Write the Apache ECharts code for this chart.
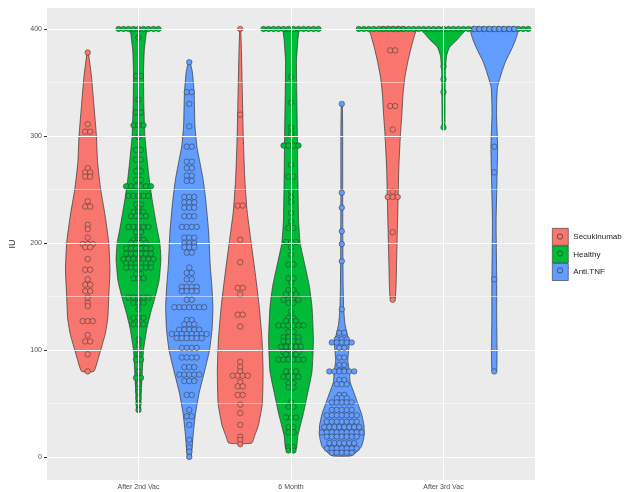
<!DOCTYPE html>
<html>
<head>
<meta charset="utf-8">
<script src="https://cdn.jsdelivr.net/npm/echarts@6/dist/echarts.min.js"></script>
<style>
  html, body { margin: 0; padding: 0; background: #fff; }
  #chart { width: 639px; height: 492px; }
</style>
</head>
<body>
<div id="chart"></div>
<script>
// categories and groups
const categories = ['After 2nd Vac', '6 Month', 'After 3rd Vac'];
const groups = ['Secukinumab', 'Healthy', 'Anti.TNF'];
const colors = ['#F8766D', '#00BA38', '#619CFF'];
const yTicks = [0, 100, 200, 300, 400];

// violin outlines: [IU, half width in category units], one list per time point
const secukinumabViolin = [
  [[80,0.04],[90,0.065],[100,0.085],[115,0.115],[130,0.132],[150,0.138],[175,0.146],[200,0.138],[225,0.115],[250,0.085],[275,0.065],[300,0.057],[330,0.04],[355,0.025],[378,0.004]],
  [[13,0.075],[20,0.095],[30,0.12],[50,0.145],[80,0.15],[110,0.143],[140,0.125],[170,0.1],[200,0.072],[230,0.045],[260,0.03],[300,0.02],[340,0.014],[380,0.008],[400,0.003]],
  [[147,0.015],[160,0.022],[180,0.025],[210,0.03],[240,0.035],[270,0.04],[300,0.05],[320,0.06],[340,0.068],[355,0.08],[370,0.1],[385,0.125],[395,0.145],[400,0.155]]
];
const healthyViolin = [
  [[44,0.012],[60,0.018],[80,0.025],[100,0.033],[120,0.055],[135,0.08],[150,0.11],[165,0.135],[185,0.147],[200,0.14],[215,0.12],[240,0.09],[260,0.07],[280,0.055],[300,0.042],[330,0.035],[360,0.033],[380,0.038],[395,0.05],[400,0.057]],
  [[7,0.033],[20,0.045],[40,0.08],[60,0.11],[80,0.138],[110,0.147],[140,0.138],[160,0.12],[180,0.09],[200,0.06],[220,0.05],[260,0.045],[300,0.042],[340,0.038],[370,0.036],[390,0.045],[400,0.05]],
  [[308,0.008],[330,0.01],[360,0.012],[375,0.02],[383,0.04],[390,0.09],[395,0.12],[400,0.15]]
];
const antiTnfViolin = [
  [[0,0.012],[20,0.025],[40,0.04],[60,0.065],[80,0.1],[100,0.133],[120,0.15],[140,0.155],[160,0.148],[180,0.137],[210,0.127],[240,0.108],[260,0.09],[275,0.07],[290,0.05],[310,0.037],[340,0.032],[360,0.02],[369,0.005]],
  [[1,0.06],[5,0.1],[10,0.13],[20,0.147],[30,0.145],[40,0.13],[50,0.105],[60,0.08],[70,0.055],[80,0.05],[90,0.04],[100,0.045],[108,0.05],[115,0.035],[125,0.02],[140,0.012],[160,0.009],[200,0.007],[250,0.006],[300,0.006],[330,0.003]],
  [[80,0.015],[100,0.018],[130,0.016],[160,0.016],[190,0.014],[220,0.012],[260,0.018],[290,0.022],[320,0.015],[345,0.02],[360,0.05],[370,0.075],[380,0.11],[390,0.14],[400,0.155]]
];

// dot plot values: [IU, number of dots in the bin]
const secukinumabDots = [
  [[378,1],[311,1],[304,2],[270,1],[266,2],[262,2],[239,1],[234,2],[217,1],[213,1],[205,1],[199,3],[196,2],[185,1],[175,2],[166,1],[161,2],[155,2],[149,1],[144,1],[141,1],[127,3],[114,1],[108,2],[96,1],[80,1]],
  [[400,1],[320,1],[235,2],[203,1],[182,1],[158,2],[152,1],[133,2],[122,1],[89,1],[84,1],[80,1],[76,4],[70,1],[66,2],[58,2],[49,1],[41,1],[30,1],[19,1],[16,1],[12,1]],
  [[400,5],[380,2],[328,2],[306,1],[248,1],[243,3],[210,1],[147,1]]
];
const healthyDots = [
  [[400,9],[392,1],[356,2],[334,1],[322,2],[310,3],[299,1],[287,2],[278,2],[269,1],[267,2],[259,2],[253,6],[244,5],[236,2],[233,1],[229,3],[225,4],[215,5],[210,2],[206,1],[203,3],[200,4],[195,6],[190,6],[185,7],[181,6],[177,6],[171,2],[167,3],[149,5],[144,3],[138,1],[130,3],[124,3],[110,1],[105,1],[96,1],[91,2],[80,1],[74,2],[68,1],[61,1],[55,1],[50,1],[44,1]],
  [[400,12],[355,1],[331,1],[308,1],[302,1],[291,4],[273,1],[262,2],[248,1],[243,1],[238,1],[228,1],[220,1],[214,2],[201,3],[196,1],[189,1],[180,2],[167,2],[163,1],[156,2],[152,3],[147,4],[144,2],[136,1],[130,2],[127,3],[123,6],[117,2],[112,4],[108,4],[103,5],[98,4],[96,3],[91,6],[80,3],[75,4],[69,2],[65,2],[51,1],[47,2],[37,3],[28,2],[23,2],[9,2],[6,2]],
  [[400,35],[365,1],[353,1],[341,1],[308,1]]
];
const antiTnfDots = [
  [[369,1],[341,2],[330,1],[309,1],[290,2],[276,2],[270,2],[263,2],[258,2],[243,3],[238,3],[233,3],[225,3],[215,4],[205,3],[200,3],[196,3],[191,2],[177,1],[172,2],[166,2],[159,4],[155,4],[147,2],[140,7],[128,2],[124,3],[119,5],[115,8],[111,6],[102,4],[93,4],[84,3],[77,5],[71,3],[58,2],[44,1],[38,2],[30,1],[16,1],[9,1],[5,1],[0,1]],
  [[330,1],[247,1],[233,1],[211,1],[199,1],[183,1],[138,1],[116,2],[110,3],[107,5],[102,2],[93,2],[86,2],[81,2],[80,6],[72,2],[68,3],[58,2],[55,3],[51,5],[44,5],[39,7],[33,7],[28,8],[23,9],[19,7],[13,6],[8,7],[4,5]],
  [[400,9],[290,1],[266,1],[166,1],[80,1]]
];

const violins = [secukinumabViolin, healthyViolin, antiTnfViolin];
const dots = [secukinumabDots, healthyDots, antiTnfDots];
const dodge = [-0.333, 0, 0.333];
const dotStep = 5 / 153; // one dot width in category units

const chart = echarts.init(document.getElementById('chart'));

function violinRender(g) {
  return function (params, api) {
    const t = params.dataIndex;
    const cx = t + 1 + dodge[g];
    const prof = violins[g][t];
    const left = prof.map(p => api.coord([cx - p[1], p[0]]));
    const right = prof.slice().reverse().map(p => api.coord([cx + p[1], p[0]]));
    return {
      type: 'polygon',
      shape: { points: left.concat(right), smooth: 0.15 },
      style: { fill: colors[g], stroke: '#333', lineWidth: 0.7 }
    };
  };
}

// stack dots of the same bin side by side, centred on the violin
function dotData(g) {
  const out = [];
  dots[g].forEach((bins, t) => {
    const cx = t + 1 + dodge[g];
    bins.forEach(b => {
      for (let i = 0; i < b[1]; i++) {
        out.push([cx + (i - (b[1] - 1) / 2) * dotStep, b[0]]);
      }
    });
  });
  return out;
}

const series = [];
// background grid lines
series.push({
  type: 'line',
  data: [],
  z: 0,
  silent: true,
  markLine: {
    silent: true,
    symbol: 'none',
    label: { show: false },
    data: [
      ...[50, 150, 250, 350].map(v => ({ yAxis: v, lineStyle: { color: '#fff', width: 0.5, type: 'solid' } })),
      ...yTicks.map(v => ({ yAxis: v, lineStyle: { color: '#fff', width: 1, type: 'solid' } })),
      ...[1, 2, 3].map(v => ({ xAxis: v, lineStyle: { color: '#fff', width: 1, type: 'solid' } }))
    ]
  }
});
groups.forEach((name, g) => {
  series.push({
    name: name,
    type: 'custom',
    z: 2,
    data: [[1, 0], [2, 0], [3, 0]],
    renderItem: violinRender(g),
    silent: true
  });
});
groups.forEach((name, g) => {
  series.push({
    name: name,
    type: 'scatter',
    z: 3 + g,
    symbolSize: 5.5,
    data: dotData(g),
    itemStyle: { color: colors[g], borderColor: '#333', borderWidth: 0.5, opacity: 1 },
    silent: true
  });
});

chart.setOption({
  animation: false,
  backgroundColor: '#fff',
  grid: {
    left: 45, right: 104, top: 8, bottom: 12,
    show: true, backgroundColor: '#EBEBEB', borderWidth: 0
  },
  xAxis: {
    type: 'value',
    min: 0.4,
    max: 3.6,
    axisLine: { show: false },
    splitLine: { show: false },
    axisTick: { show: true, customValues: [1, 2, 3], length: 3, lineStyle: { color: '#333' } },
    axisLabel: {
      customValues: [1, 2, 3],
      formatter: v => categories[Math.round(v) - 1],
      fontSize: 7,
      color: '#4D4D4D',
      margin: 4,
      fontFamily: 'Liberation Sans'
    }
  },
  yAxis: {
    type: 'value',
    min: -21.5,
    max: 419.6,
    name: 'IU',
    nameLocation: 'middle',
    nameGap: 30,
    nameTextStyle: { fontSize: 9, color: '#222', fontFamily: 'Liberation Sans' },
    axisLine: { show: false },
    splitLine: { show: false },
    axisTick: { show: true, customValues: yTicks, length: 3, lineStyle: { color: '#333' } },
    axisLabel: {
      customValues: yTicks,
      fontSize: 7,
      color: '#4D4D4D',
      margin: 5,
      fontFamily: 'Liberation Sans'
    }
  },
  legend: {
    orient: 'vertical',
    left: 552,
    top: 228,
    padding: 0,
    itemWidth: 16,
    itemHeight: 17,
    itemGap: 0,
    selectedMode: false,
    textStyle: { fontSize: 8, color: '#222', fontFamily: 'Liberation Sans' },
    data: groups.map((name, g) => ({
      name: name,
      icon: 'rect',
      itemStyle: { color: colors[g], borderColor: '#333', borderWidth: 0.6 }
    }))
  },
  graphic: groups.map((name, g) => ({
    type: 'circle',
    shape: { cx: 560, cy: 236.5 + g * 17, r: 2.7 },
    style: { fill: colors[g], stroke: '#222', lineWidth: 0.6 },
    z: 100
  })),
  series: series
});
</script>
</body>
</html>
